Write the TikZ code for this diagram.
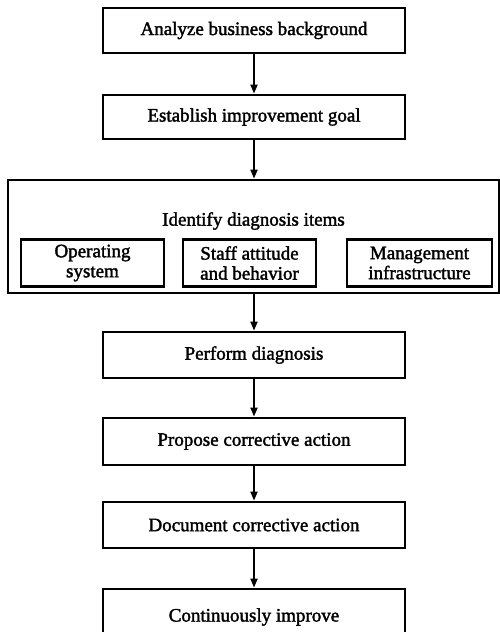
\documentclass[tikz,border=0pt]{standalone}
\usepackage{fontspec}
\setmainfont{Liberation Serif}[FakeBold=1.8]
\usetikzlibrary{arrows.meta}
\begin{document}
\begin{tikzpicture}[x=1pt,y=-1pt,
  stepbox/.style={draw,line width=2.8pt,minimum width=302pt,minimum height=45pt,inner sep=0pt,font=\fontsize{19}{22}\selectfont},
  subbox/.style={draw,line width=2.8pt,minimum height=47pt,inner sep=0pt,align=center,font=\fontsize{19}{20}\selectfont},
  flow/.style={line width=1.8pt,-{Triangle[length=9pt,width=7pt]}}]
\useasboundingbox (0,0) rectangle (500,632);
\node[stepbox] (a) at (254,30.5) {Analyze business background};
\node[stepbox,minimum height=44pt] (b) at (254,117) {Establish improvement goal};
\node[draw,line width=2.8pt,minimum width=491pt,minimum height=113pt,inner sep=0pt] (c) at (253.5,236.5) {};
\node[font=\fontsize{19}{22}\selectfont] (ct) at (253.5,221) {Identify diagnosis items};
\node[subbox,minimum width=143pt] (c1) at (92.5,263) {Operating\\system};
\node[subbox,minimum width=133pt] (c2) at (249.5,263) {Staff attitude\\and behavior};
\node[subbox,minimum width=145pt] (c3) at (419.5,263) {Management\\infrastructure};
\node[stepbox,minimum height=46pt] (d) at (254,355) {Perform diagnosis};
\node[stepbox,minimum height=47pt] (e) at (254,441.5) {Propose corrective action};
\node[stepbox,minimum height=46pt] (f) at (254,525) {Document corrective action};
\node[stepbox,minimum height=56pt] (g) at (254,617) {Continuously improve};
\draw[flow] (a) -- (b);
\draw[flow] (b) -- (b |- c.north);
\draw[flow] (d |- c.south) -- (d);
\draw[flow] (d) -- (e);
\draw[flow] (e) -- (f);
\draw[flow] (f) -- (g);
\end{tikzpicture}
\end{document}
